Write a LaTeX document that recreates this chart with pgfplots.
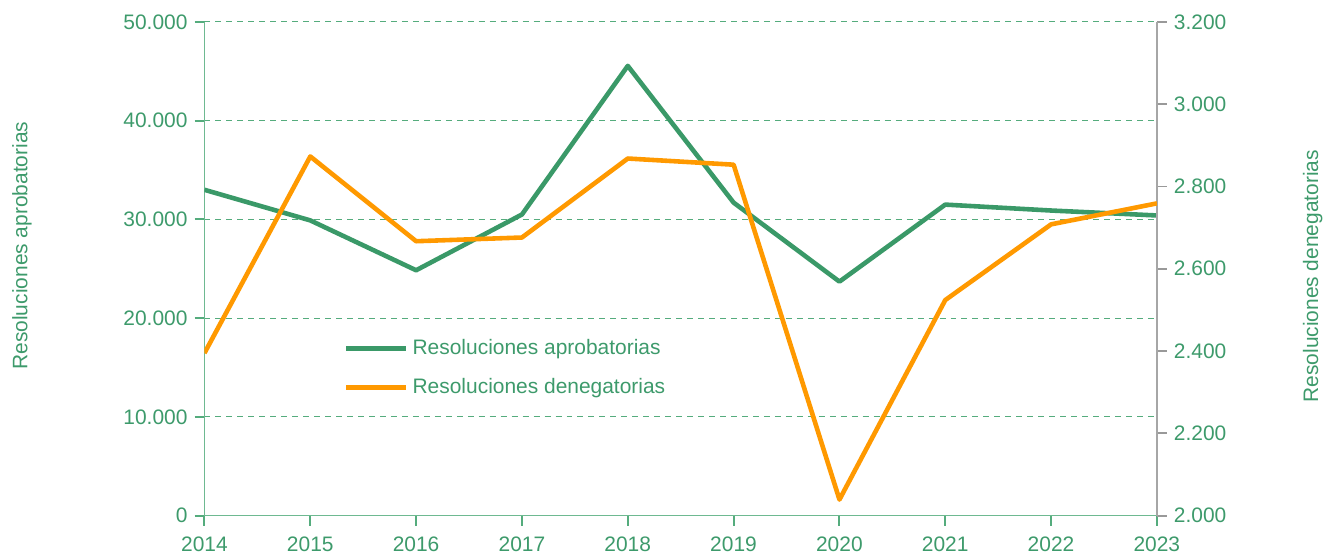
\documentclass[border=0pt]{standalone}
\usepackage{pgfplots}
\pgfplotsset{compat=1.18}
\usepackage{fontspec}
\setmainfont{Liberation Sans}
\definecolor{vgreen}{RGB}{58,153,104}
\definecolor{vtext}{RGB}{61,154,107}
\definecolor{vorange}{RGB}{255,153,0}
\definecolor{vpale}{RGB}{110,185,145}
\definecolor{vgrid}{RGB}{85,172,125}

\pgfplotsset{
  base/.style={
    width=477.5pt, height=247.5pt, scale only axis,
    xmin=2014, xmax=2023,
    tick label style={font=\fontsize{10.5}{12}\selectfont, text=vtext},
    label style={font=\fontsize{10.5}{12}\selectfont, text=vtext},
    /pgf/number format/assume math mode=true,
    /pgf/number format/1000 sep={.},
  },
}

\begin{document}
\begin{tikzpicture}
\begin{axis}[base, name=ax,
    axis y line*=left, axis x line*=bottom,
    axis line style={vpale, line width=0.7pt},
    tick align=outside, major tick length=5pt,
    tick style={vgrid, line width=1pt},
    xtick={2014,...,2023},
    x tick label style={/pgf/number format/1000 sep={}, yshift=-2pt},
    ymin=0, ymax=50000,
    ytick={0,10000,...,50000},
    scaled y ticks=false,
    ymajorgrids,
    major grid style={draw=vgrid, line width=0.55pt, dash pattern=on 3pt off 2.5pt},
    ylabel={Resoluciones aprobatorias},
    ylabel style={at={(axis description cs:-0.1916,0.547)}, anchor=center, rotate=0},
    legend style={at={(axis description cs:0.14,0.374)}, anchor=north west,
      draw=none, fill=none, font=\fontsize{10.5}{12}\selectfont, text=vtext,
      row sep=6.5pt},
    legend cell align=left,
    legend image code/.code={\draw[#1] (0pt,0pt) -- (30pt,0pt);},
  ]
  \addplot[vgreen, line width=2.3pt, line join=round] coordinates {
    (2014,33000) (2015,29900) (2016,24850) (2017,30500) (2018,45550)
    (2019,31700) (2020,23700) (2021,31500) (2022,30900) (2023,30400)
  };
  \addlegendentry{Resoluciones aprobatorias}
  \addlegendimage{vorange, line width=2.3pt}
  \addlegendentry{Resoluciones denegatorias}
\end{axis}
\begin{axis}[base,
    axis y line*=right, axis x line=none,
    axis line style={gray!70, line width=0.7pt},
    tick align=outside, major tick length=5pt,
    tick style={gray!80, line width=1pt},
    ymin=2000, ymax=3200,
    ytick={2000,2200,...,3200},
    scaled y ticks=false,
    ylabel={Resoluciones denegatorias},
    ylabel style={at={(axis description cs:1.1634,0.485)}, anchor=center, rotate=0},
  ]
  \addplot[vorange, line width=2.3pt, line join=round] coordinates {
    (2014,2395) (2015,2873) (2016,2667) (2017,2676) (2018,2868)
    (2019,2853) (2020,2039) (2021,2524) (2022,2708) (2023,2759)
  };
\end{axis}
\path (ax.south west) ++(-102.5pt,-21.5pt);
\path (ax.north east) ++(84.5pt,11pt);
\end{tikzpicture}
\end{document}
